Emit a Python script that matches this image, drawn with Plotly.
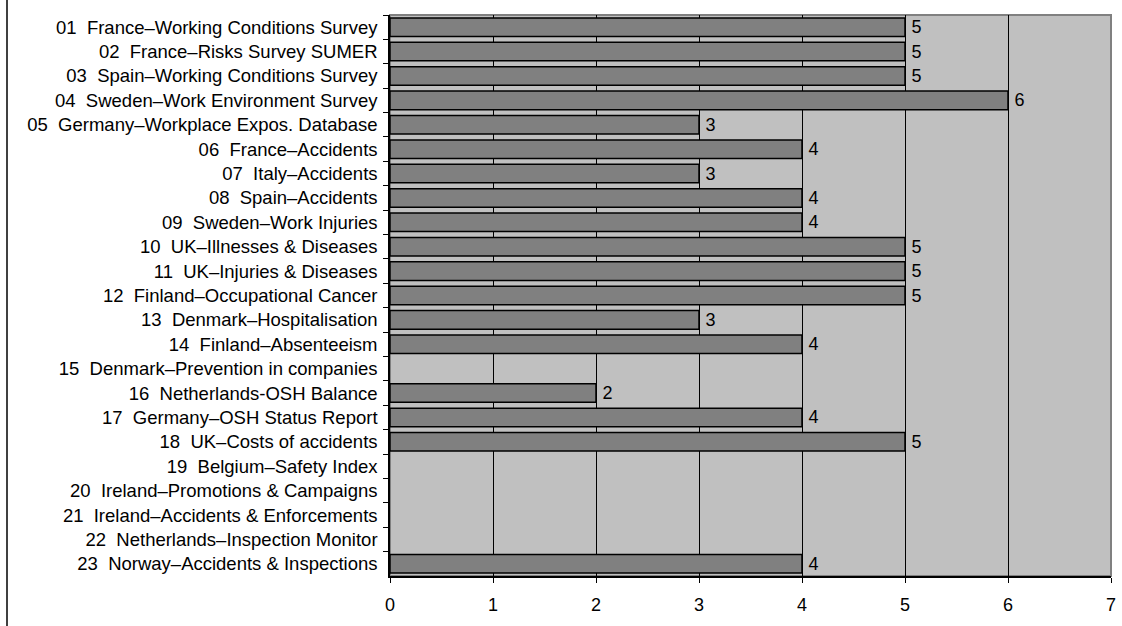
import plotly.graph_objects as go

categories = [
    "01  France–Working Conditions Survey",
    "02  France–Risks Survey SUMER",
    "03  Spain–Working Conditions Survey",
    "04  Sweden–Work Environment Survey",
    "05  Germany–Workplace Expos. Database",
    "06  France–Accidents",
    "07  Italy–Accidents",
    "08  Spain–Accidents",
    "09  Sweden–Work Injuries",
    "10  UK–Illnesses & Diseases",
    "11  UK–Injuries & Diseases",
    "12  Finland–Occupational Cancer",
    "13  Denmark–Hospitalisation",
    "14  Finland–Absenteeism",
    "15  Denmark–Prevention in companies",
    "16  Netherlands-OSH Balance",
    "17  Germany–OSH Status Report",
    "18  UK–Costs of accidents",
    "19  Belgium–Safety Index",
    "20  Ireland–Promotions & Campaigns",
    "21  Ireland–Accidents & Enforcements",
    "22  Netherlands–Inspection Monitor",
    "23  Norway–Accidents & Inspections",
]
values = [5, 5, 5, 6, 3, 4, 3, 4, 4, 5, 5, 5, 3, 4, None, 2, 4, 5, None, None, None, None, 4]
x_ticks = [0, 1, 2, 3, 4, 5, 6, 7]

# keep the double space between number and name visible
labels = [c.replace("  ", "\u00a0 ") for c in categories]

FONT = "Liberation Sans, Arial, sans-serif"

fig = go.Figure(
    go.Bar(
        x=values,
        y=labels,
        orientation="h",
        width=0.76,
        marker=dict(color="#808080", line=dict(color="#000000", width=1.5)),
        text=["\u2009" + str(v) if v is not None else "" for v in values],
        textposition="outside",
        constraintext="none",
        textfont=dict(family=FONT, size=18, color="#000000"),
        cliponaxis=False,
        hoverinfo="x+y",
    )
)

fig.update_layout(
    width=1122,
    height=626,
    margin=dict(l=390, r=11, t=15, b=50),
    paper_bgcolor="#ffffff",
    plot_bgcolor="#c0c0c0",
    showlegend=False,
    font=dict(family=FONT, size=18, color="#000000"),
    bargap=0.24,
    shapes=[
        # plot-area frame (top/right in grey)
        dict(type="rect", xref="paper", yref="paper", x0=0, x1=1, y0=0, y1=1,
             line=dict(color="#808080", width=2), layer="below"),
        # chart border on the left
        dict(type="line", xref="paper", yref="paper",
             x0=(7 - 390) / 721, x1=(7 - 390) / 721, y0=-0.1, y1=1.05,
             line=dict(color="#000000", width=1.5)),
    ],
)

fig.update_xaxes(
    range=[0, 7],
    tickvals=x_ticks,
    ticktext=[str(t) for t in x_ticks],
    showgrid=True,
    gridcolor="#000000",
    gridwidth=1,
    zeroline=False,
    showline=True,
    linecolor="#000000",
    linewidth=1.5,
    ticks="outside",
    ticklen=5,
    tickcolor="#000000",
    tickfont=dict(family=FONT, size=18),
    ticklabelstandoff=7,
    automargin=False,
)

fig.update_yaxes(
    categoryorder="array",
    categoryarray=labels,
    autorange="reversed",
    showgrid=False,
    showline=True,
    linecolor="#000000",
    linewidth=1.5,
    ticks="outside",
    tickson="boundaries",
    ticklen=5,
    tickcolor="#000000",
    tickfont=dict(family=FONT, size=18.5),
    ticklabelstandoff=7,
    automargin=False,
)

fig.write_html("out.html")
